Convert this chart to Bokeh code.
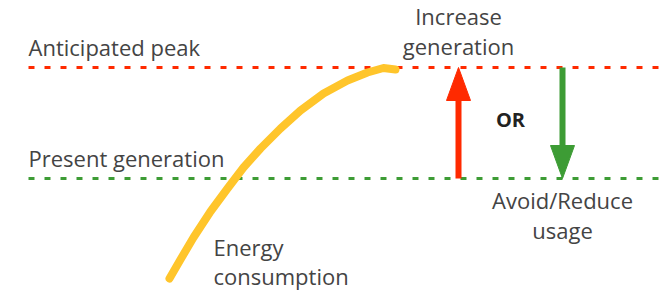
from bokeh.plotting import figure
from bokeh.models import Range1d
from bokeh.core.properties import value
from bokeh.embed import file_html
from bokeh.resources import INLINE

# ---- data (screen-like units: x to the right, y downward) ----
level_names = ["Anticipated peak", "Present generation"]
level_values = [67, 178]

consumption_x = [169, 180, 193, 210, 227, 243, 260, 280, 300, 323, 347, 367, 383, 395]
consumption_y = [278, 259, 237, 211, 188, 167, 148, 128, 110, 93, 80, 72, 67.5, 69]

action_labels = [["Increase", "generation"], ["Avoid/Reduce", "usage"]]
action_x = [458, 562]
action_from = [178, 67]
action_to = [67, 178]

curve_label = ["Energy", "consumption"]
or_label = "OR"

# ---- styles ----
FONT = "Open Sans"
TEXT_COLOR = "#444444"
RED = "#ff2a00"
GREEN = "#3d9c35"
YELLOW = "#ffc52b"
LEVEL_COLORS = [RED, GREEN]
W, H = 672, 290
DY = -9  # baseline correction

p = figure(width=W, height=H, output_backend="svg", toolbar_location=None,
           x_range=Range1d(0, W), y_range=Range1d(H, 0),
           min_border=0, outline_line_color=None)
p.axis.visible = False
p.grid.visible = False
p.background_fill_color = "white"
p.border_fill_color = "white"

# dashed levels
x0, x1 = 28, 666
for name, lv, col in zip(level_names, level_values, LEVEL_COLORS):
    p.line([x0, x1], [lv, lv], line_color=col, line_width=3, line_dash="6 10")
    p.text(x=[x0], y=[lv - 12 + DY], text=[name], text_font=value(FONT),
           text_font_size="22px", text_color=TEXT_COLOR,
           text_baseline="alphabetic", text_align="left")

# energy consumption curve
p.line(consumption_x, consumption_y, line_color=YELLOW, line_width=8,
       line_cap="round", line_join="round")
p.text(x=[213, 213], y=[255 + DY, 284 + DY], text=curve_label, text_font=value(FONT),
       text_font_size="22px", text_color=TEXT_COLOR, text_baseline="alphabetic")

# arrows
HEAD_L, HEAD_W = 33, 24
arrow_colors = [RED, GREEN]
for ax, a0, a1, col in zip(action_x, action_from, action_to, arrow_colors):
    d = 1 if a1 > a0 else -1
    base = a1 - d * HEAD_L
    p.segment(x0=[ax], y0=[a0], x1=[ax], y1=[base], line_color=col, line_width=6)
    p.patch([ax - HEAD_W / 2, ax + HEAD_W / 2, ax], [base, base, a1],
            fill_color=col, line_color=col, line_width=1)

# action labels
p.text(x=[action_x[0]] * 2, y=[24 + DY, 54 + DY], text=action_labels[0], text_font=value(FONT),
       text_font_size="22px", text_color=TEXT_COLOR, text_baseline="alphabetic",
       text_align="center")
p.text(x=[action_x[1]] * 2, y=[208 + DY, 238 + DY], text=action_labels[1], text_font=value(FONT),
       text_font_size="22px", text_color=TEXT_COLOR, text_baseline="alphabetic",
       text_align="center")

# OR
p.text(x=[(action_x[0] + action_x[1]) / 2], y=[128 + DY], text=[or_label], text_font=value(FONT),
       text_font_size="20px", text_font_style="bold", text_color="#222222",
       text_baseline="alphabetic", text_align="center")

open("out.html", "w").write(file_html(p, INLINE))
